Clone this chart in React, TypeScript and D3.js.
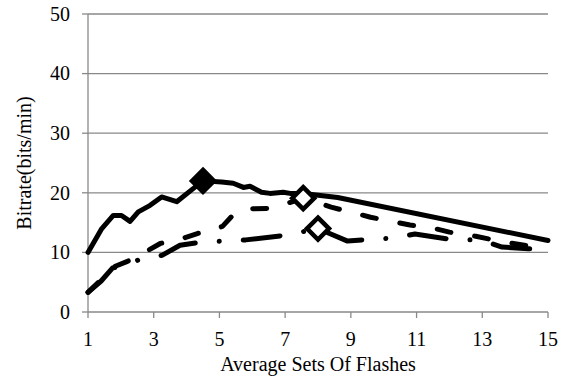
import * as d3 from "d3";

// [x, bitrate]
const solidSeries: [number, number][] = [
  [1, 10], [1.42, 14], [1.77, 16.2], [2.02, 16.2], [2.28, 15.2], [2.53, 16.8],
  [2.89, 17.9], [3.24, 19.3], [3.7, 18.5], [4.2, 20.7], [4.5, 22.0], [5.07, 21.8],
  [5.42, 21.6], [5.73, 20.9], [5.93, 21.1], [6.28, 20.1], [6.54, 19.9], [6.94, 20.1],
  [7.15, 19.9], [7.55, 19.9], [8.6, 19.2], [15, 12.0],
];
const dashSeries: [number, number][] = [
  [1, 3.3], [1.4, 5.4], [1.75, 7.5], [2.2, 8.5], [2.6, 9.6], [3.2, 11.5], [3.85, 12.3],
  [4.35, 13.2], [4.8, 13.6], [5.1, 14.4], [5.45, 16.5], [5.8, 17.3], [6.6, 17.4],
  [7.55, 19.1], [8.4, 17.6], [9.6, 15.9], [10.8, 14.6], [11.4, 14.2], [12.0, 13.4],
  [12.8, 12.7], [13.7, 11.7], [14.4, 11.1], [15, 11.1],
];
const dashDotSeries: [number, number][] = [
  [1, 3.3], [1.4, 5.2], [1.75, 7.4], [2.2, 7.9], [2.6, 8.9], [3.25, 9.5], [3.8, 11.2],
  [4.4, 11.7], [5.1, 11.9], [5.8, 12.1], [7.05, 12.9], [8.0, 14.0], [8.9, 11.9],
  [9.6, 12.2], [10.3, 12.4], [10.95, 13.1], [12.26, 12.0], [12.9, 12.2], [13.6, 10.9],
  [14.4, 10.6], [15, 10.6],
];
// marker points (series maxima)
const filledMarkers: [number, number][] = [[4.5, 22.0]];
const hollowMarkers: [number, number][] = [[7.55, 19.1], [8.0, 14.0]];

const xTicks = [1, 3, 5, 7, 9, 11, 13, 15];
const yTicks = [0, 10, 20, 30, 40, 50];

const W = 565, H = 383;
const FONT = "Liberation Serif";
const FS = 20;
const GRID = "#898989";

const x = d3.scaleLinear().domain( [ 1, 15 ] ).range( [ 88, 548 ] );
const y = d3.scaleLinear().domain( [ 0, 50 ] ).range( [ 312, 14 ] );
const line = d3.line<[ number, number ]>().x( ( d ) => x( d[ 0 ] ) ).y( ( d ) => y( d[ 1 ] ) );
const diamond = ( r: number ) => `M0,${ -r }L${ r },0L0,${ r }L${ -r },0Z`;

const series: { data: [ number, number ][]; dash?: string }[] = [
  { data: dashDotSeries, dash: "37,24,0.1,24" },
  { data: dashSeries, dash: "14,24" },
  { data: solidSeries },
];

export default function App ()
{
  return (
    <svg width={ W } height={ H } style={ { position: "absolute", left: 0, top: 0, background: "#fff" } }>
      {/* gridlines */ }
      { yTicks.filter( ( t ) => t > 0 ).map( ( t ) => (
        <line key={ t } x1={ x( 1 ) } x2={ x( 15 ) } y1={ y( t ) } y2={ y( t ) } stroke={ GRID } strokeWidth={ 1.3 } />
      ) ) }
      {/* axes */ }
      <line x1={ x( 1 ) } x2={ x( 1 ) } y1={ y( 50 ) } y2={ y( 0 ) } stroke={ GRID } strokeWidth={ 1.3 } />
      <line x1={ x( 1 ) } x2={ x( 15 ) } y1={ y( 0 ) } y2={ y( 0 ) } stroke={ GRID } strokeWidth={ 1.3 } />
      { yTicks.map( ( t ) => (
        <g key={ t }>
          <line x1={ x( 1 ) - 6 } x2={ x( 1 ) } y1={ y( t ) } y2={ y( t ) } stroke={ GRID } strokeWidth={ 1.3 } />
          <text x={ x( 1 ) - 18 } y={ y( t ) } dy="0.34em" textAnchor="end" fontFamily={ FONT } fontSize={ FS }>{ t }</text>
        </g>
      ) ) }
      { xTicks.map( ( t ) => (
        <g key={ t }>
          <line x1={ x( t ) } x2={ x( t ) } y1={ y( 0 ) } y2={ y( 0 ) + 6 } stroke={ GRID } strokeWidth={ 1.3 } />
          <text x={ x( t ) } y={ y( 0 ) + 34 } textAnchor="middle" fontFamily={ FONT } fontSize={ FS }>{ t }</text>
        </g>
      ) ) }
      {/* titles */ }
      <text x={ 318 } y={ 371 } textAnchor="middle" fontFamily={ FONT } fontSize={ FS }>Average Sets Of Flashes</text>
      <text transform="translate(31,163) rotate(-90)" textAnchor="middle" fontFamily={ FONT } fontSize={ FS }>Bitrate(bits/min)</text>
      {/* series */ }
      { series.map( ( s, i ) => (
        <path key={ i } d={ line( s.data ) ?? "" } fill="none" stroke="#000" strokeWidth={ 5 }
          strokeLinecap="round" strokeLinejoin="round" strokeDasharray={ s.dash } />
      ) ) }
      { hollowMarkers.map( ( d, i ) => (
        <path key={ i } transform={ `translate(${ x( d[ 0 ] ) },${ y( d[ 1 ] ) })` } d={ diamond( 11 ) }
          fill="#fff" stroke="#000" strokeWidth={ 4.5 } />
      ) ) }
      { filledMarkers.map( ( d, i ) => (
        <path key={ i } transform={ `translate(${ x( d[ 0 ] ) },${ y( d[ 1 ] ) })` } d={ diamond( 11 ) }
          fill="#000" stroke="#000" strokeWidth={ 4.5 } />
      ) ) }
    </svg>
  );
}
